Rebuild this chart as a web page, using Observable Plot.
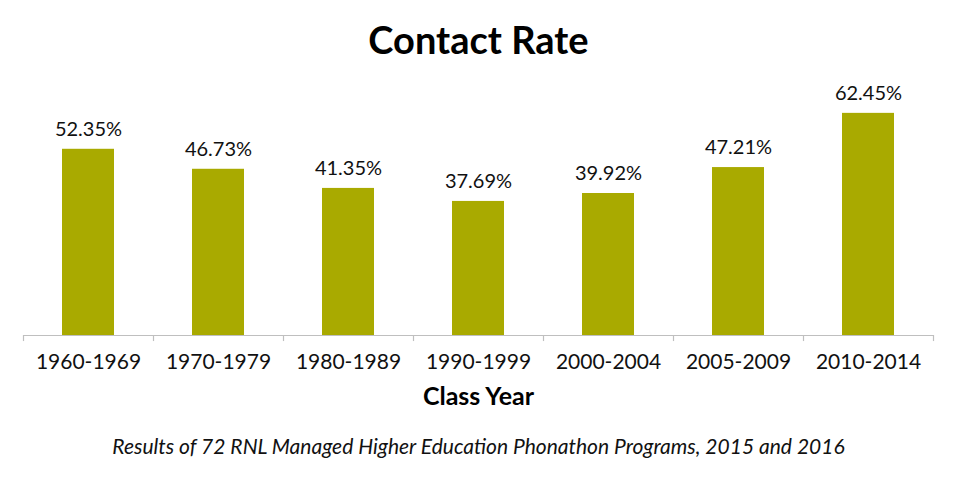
<!DOCTYPE html>
<html>
<head>
<meta charset="utf-8">
<script src="https://cdn.jsdelivr.net/npm/d3@7"></script>
<script src="https://cdn.jsdelivr.net/npm/@observablehq/plot@0.6"></script>
<style>
  html, body { margin: 0; padding: 0; background: #fff; }
  body { width: 957px; height: 492px; overflow: hidden; font-family: Lato, "Open Sans", sans-serif; }
  #title { height: 70px; line-height: 78px; text-align: center; font-weight: 700; font-size: 38px; color: #000; }
  #caption { text-align: center; font-style: italic; font-size: 21px; color: #111; margin-top: 13px; }
  svg { display: block; }
</style>
</head>
<body>
<div id="title">Contact Rate</div>
<div id="chart"></div>
<div id="caption">Results of 72 RNL Managed Higher Education Phonathon Programs, 2015 and 2016</div>
<script>
const categories = ["1960-1969", "1970-1979", "1980-1989", "1990-1999", "2000-2004", "2005-2009", "2010-2014"];
const values = [52.35, 46.73, 41.35, 37.69, 39.92, 47.21, 62.45];
const xLabel = "Class Year";

const data = categories.map((c, i) => ({ cat: c, value: values[i] }));
const W = 957, mL = 23, mR = 24;
const band = (W - mL - mR) / categories.length;

const chart = Plot.plot({
  width: W,
  height: 350,
  marginLeft: mL,
  marginRight: mR,
  marginTop: 16,
  marginBottom: 85,
  style: { fontFamily: "Lato, sans-serif", background: "#fff", overflow: "visible" },
  x: { domain: categories, paddingInner: 0.6, paddingOuter: 0.3, label: null, axis: null },
  y: { domain: [0, 70], axis: null },
  marks: [
    Plot.barY(data, { x: "cat", y: "value", fill: "#a9aa00" }),
    Plot.ruleY([0], { stroke: "#bfbfbf", strokeWidth: 1.2 }),
    Plot.ruleX(categories, { x: d => d, dx: -band / 2, y1: 0, y2: -1.7, stroke: "#bfbfbf", strokeWidth: 1.2 }),
    Plot.ruleX([categories[categories.length - 1]], { x: d => d, dx: band / 2, y1: 0, y2: -1.7, stroke: "#bfbfbf", strokeWidth: 1.2 }),
    Plot.text(data, { x: "cat", y: "value", text: d => d.value.toFixed(2) + "%", dy: -20, fontSize: 20, fill: "#111" }),
    Plot.text(categories, { x: d => d, y: 0, dy: 27, text: d => d, fontSize: 21, fill: "#111" }),
    Plot.text([xLabel], { frameAnchor: "bottom", dy: 69, text: d => d, fontSize: 25, fontWeight: 700, fill: "#000" })
  ]
});
document.getElementById("chart").appendChild(chart);
</script>
</body>
</html>
